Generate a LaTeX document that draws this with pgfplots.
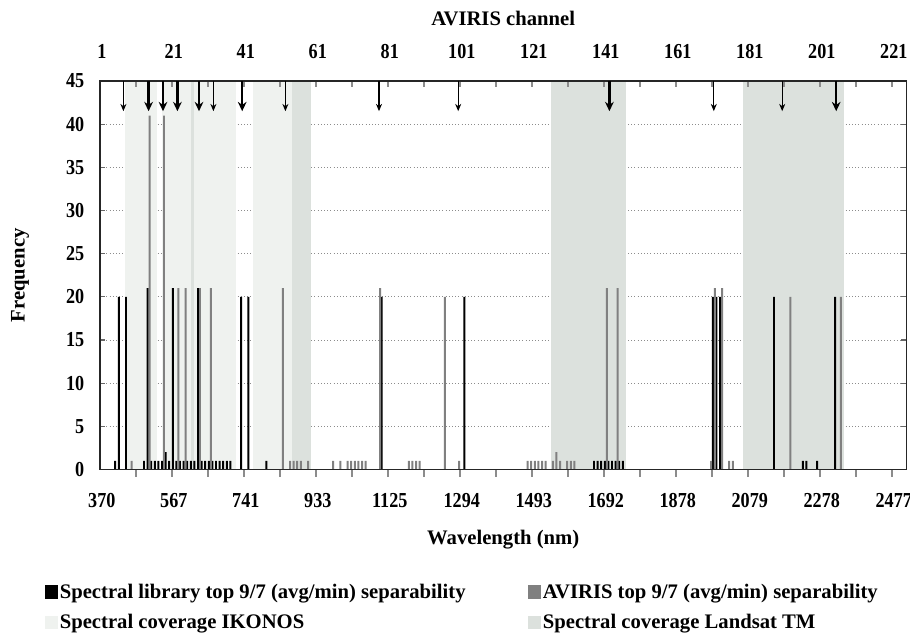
\documentclass[border=0pt]{standalone}
\usepackage{fontspec}
\setmainfont{Liberation Serif}
\newfontfamily\tickfont{Liberation Serif}[FakeStretch=0.85]
\usepackage{pgfplots}
\pgfplotsset{compat=1.18}
\usepackage{pgfplotstable}
\usetikzlibrary{arrows.meta}

\definecolor{ikonos}{HTML}{EFF2EF}
\definecolor{landsat}{HTML}{DCE1DD}
\definecolor{avgray}{HTML}{808080}
\definecolor{tickgray}{HTML}{8C8C8C}

% spectral library top 9/7 separability (channel, frequency)
\pgfplotstableread{
ch val
5 1
6 20
8 20
13 1
14 21
15 1
16 1
17 1
18 1
19 2
20 1
21 21
22 1
23 1
24 1
25 1
26 1
27 1
28 21
29 1
30 1
31 1
32 1
33 1
34 1
35 1
36 1
37 1
40 20
42 20
47 1
79 20
102 20
138 1
139 1
140 1
141 1
142 1
143 1
144 1
145 1
146 1
171 20
172 20
173 20
188 20
196 1
197 1
200 1
205 20
}\speclib

% AVIRIS top 9/7 separability
\pgfplotstableread{
ch val
9 1
14 41
18 41
22 21
24 21
28 21
31 21
51 21
53 1
54 1
55 1
56 1
58 1
65 1
67 1
69 1
70 1
71 1
72 1
73 1
74 1
78 21
86 1
87 1
88 1
89 1
96 20
100 1
119 1
120 1
121 1
122 1
123 1
124 1
126 1
127 2
128 1
130 1
131 1
132 1
141 21
144 21
170 1
171 21
173 21
175 1
176 1
192 20
206 20
}\aviris

\pgfplotstableread{
ch y u v
14 45 0 -3.5
18 45 0 -3.5
22 45 0 -3.5
28 45 0 -3.5
40 45 0 -3.5
142 45 0 -3.5
205 45 0 -3.5
}\thickarr

\pgfplotstableread{
ch y u v
7 45 0 -3.5
32 45 0 -3.5
52 45 0 -3.5
78 45 0 -3.5
100 45 0 -3.5
171 45 0 -3.5
190 45 0 -3.5
}\thinarr

\begin{document}
\begin{tikzpicture}[x=0.75pt,y=0.75pt]
\path[use as bounding box] (0,0) rectangle (910,634);

\begin{axis}[
  at={(75pt,123.375pt)}, anchor=south west,
  scale only axis, width=604.8pt, height=291.375pt,
  xmin=0.5, xmax=224.5, ymin=0, ymax=45,
  enlargelimits=false,
  axis line style={black!85, line width=1.1pt},
  tick align=outside,
  xtick pos=bottom,
  xtick={1,21,...,221},
  xticklabels={370,567,741,933,1125,1294,1493,1692,1878,2079,2278,2477},
  major x tick style={draw=none},
  minor xtick={10.5,20.5,...,220.5},
  minor tick length=5.5pt,
  minor x tick style={tickgray, line width=0.9pt},
  ytick={0,5,...,45},
  ytick pos=left,
  ytick style={draw=none},
  ymajorgrids,
  major grid style={dotted, black!45, line width=0.7pt},
  /pgf/number format/assume math mode=true,
  tick label style={font=\tickfont\bfseries\fontsize{16}{18}\selectfont},
  xticklabel style={yshift=-10pt},
  yticklabel style={xshift=-4pt},
  label style={font=\bfseries\fontsize{15.5}{18}\selectfont},
  xlabel={Wavelength (nm)},
  xlabel style={at={(axis description cs:0.5,-0.1815)}, anchor=center},
  ylabel={Frequency},
  ylabel style={at={(axis description cs:-0.099,0.5)}, anchor=center},
  legend columns=2,
  legend cell align=left,
  legend style={draw=none, fill=none, inner sep=0pt,
    at={(axis description cs:-0.0682,-0.29)}, anchor=north west,
    font=\bfseries\fontsize{15.5}{18}\selectfont,
    /tikz/every even column/.append style={column sep=45pt},
    row sep=8.5pt,
    nodes={inner xsep=2pt, inner ysep=1pt}},
]
% spectral coverage Landsat TM
\addplot[draw=none, fill=landsat, forget plot] coordinates {(7.4,45) (16.2,45)} \closedcycle;
\addplot[draw=none, fill=landsat, forget plot] coordinates {(17.6,45) (38.3,45)} \closedcycle;
\addplot[draw=none, fill=landsat, forget plot] coordinates {(43.1,45) (59.0,45)} \closedcycle;
\addplot[draw=none, fill=landsat, forget plot] coordinates {(125.7,45) (146.5,45)} \closedcycle;
\addplot[draw=none, fill=landsat, forget plot] coordinates {(179.2,45) (207.3,45)} \closedcycle;
% spectral coverage IKONOS
\addplot[draw=none, fill=ikonos, forget plot] coordinates {(7.4,45) (16.2,45)} \closedcycle;
\addplot[draw=none, fill=ikonos, forget plot] coordinates {(17.6,45) (25.9,45)} \closedcycle;
\addplot[draw=none, fill=ikonos, forget plot] coordinates {(26.6,45) (38.3,45)} \closedcycle;
\addplot[draw=none, fill=ikonos, forget plot] coordinates {(43.1,45) (53.8,45)} \closedcycle;

\addplot[ybar, bar width=0.55, bar shift=-0.28, fill=black, draw=none, forget plot]
  table[x=ch, y=val] {\speclib};
\addplot[ybar, bar width=0.55, bar shift=0.28, fill=avgray, draw=none, forget plot]
  table[x=ch, y=val] {\aviris};

\addlegendimage{legend image code/.code={\fill[black] (0pt,-4.8pt) rectangle (8.5pt,4.8pt);}}
\addlegendentry{Spectral library top 9/7 (avg/min) separability}
\addlegendimage{legend image code/.code={\fill[avgray] (0pt,-4.8pt) rectangle (8.5pt,4.8pt);}}
\addlegendentry{AVIRIS top 9/7 (avg/min) separability}
\addlegendimage{legend image code/.code={\fill[ikonos] (0pt,-4.8pt) rectangle (8.5pt,4.8pt);}}
\addlegendentry{Spectral coverage IKONOS}
\addlegendimage{legend image code/.code={\fill[landsat] (0pt,-4.8pt) rectangle (8.5pt,4.8pt);}}
\addlegendentry{Spectral coverage Landsat TM}
\end{axis}

\begin{axis}[
  at={(75pt,123.375pt)}, anchor=south west,
  scale only axis, width=604.8pt, height=291.375pt,
  xmin=0.5, xmax=224.5, ymin=0, ymax=45,
  enlargelimits=false,
  axis line style={black!85, line width=1.1pt},
  tick align=inside,
  xtick pos=top, xticklabel pos=upper,
  xtick={1,21,...,221},
  major x tick style={draw=none},
  minor xtick={10.5,20.5,...,220.5},
  minor tick length=4.5pt,
  major tick length=4pt,
  minor x tick style={tickgray, line width=0.9pt},
  ytick={5,10,...,40},
  yticklabels={},
  ytick pos=both,
  y tick style={black!60, line width=0.8pt},
  /pgf/number format/assume math mode=true,
  tick label style={font=\tickfont\bfseries\fontsize{16}{18}\selectfont},
  xticklabel style={yshift=13pt},
  xlabel={AVIRIS channel},
  xlabel style={font=\bfseries\fontsize{15.5}{18}\selectfont,
    at={(axis description cs:0.5,1.162)}, anchor=center},
]
\addplot[black, line width=1.7pt, -{Stealth[length=7pt, width=6.5pt]},
  quiver={u=\thisrow{u}, v=\thisrow{v}}] table[x=ch, y=y] {\thickarr};
\addplot[black, line width=0.8pt, -{Stealth[length=5.5pt, width=4.5pt]},
  quiver={u=\thisrow{u}, v=\thisrow{v}}] table[x=ch, y=y] {\thinarr};
\end{axis}
\end{tikzpicture}
\end{document}
